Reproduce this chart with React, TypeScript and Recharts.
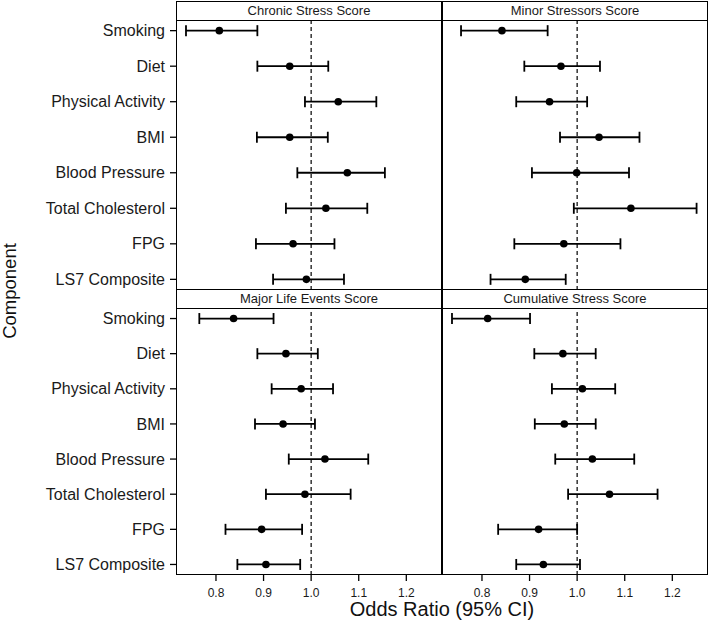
import React from "react";
import {
  ScatterChart,
  Scatter,
  XAxis,
  YAxis,
  ErrorBar,
  ReferenceLine,
} from "recharts";

const COMPONENTS = [
  "Smoking",
  "Diet",
  "Physical Activity",
  "BMI",
  "Blood Pressure",
  "Total Cholesterol",
  "FPG",
  "LS7 Composite",
];
const OR_TICKS = [0.8, 0.9, 1.0, 1.1, 1.2];

// odds ratio, lower and upper 95% CI, in COMPONENTS order
const CHRONIC_OR = [0.807, 0.955, 1.057, 0.955, 1.076, 1.031, 0.962, 0.99];
const CHRONIC_LO = [0.737, 0.887, 0.987, 0.886, 0.971, 0.947, 0.884, 0.92];
const CHRONIC_HI = [0.887, 1.036, 1.137, 1.035, 1.155, 1.118, 1.049, 1.069];

const MINOR_OR = [0.842, 0.966, 0.942, 1.046, 0.999, 1.113, 0.972, 0.891];
const MINOR_LO = [0.756, 0.889, 0.872, 0.964, 0.905, 0.993, 0.868, 0.818];
const MINOR_HI = [0.938, 1.048, 1.021, 1.131, 1.109, 1.251, 1.091, 0.976];

const MAJOR_OR = [0.837, 0.947, 0.979, 0.941, 1.029, 0.987, 0.896, 0.905];
const MAJOR_LO = [0.765, 0.887, 0.917, 0.882, 0.953, 0.905, 0.82, 0.845];
const MAJOR_HI = [0.921, 1.014, 1.046, 1.008, 1.12, 1.083, 0.981, 0.977];

const CUMUL_OR = [0.812, 0.97, 1.011, 0.973, 1.032, 1.068, 0.919, 0.929];
const CUMUL_LO = [0.737, 0.91, 0.947, 0.911, 0.954, 0.981, 0.834, 0.872];
const CUMUL_HI = [0.901, 1.039, 1.08, 1.039, 1.12, 1.169, 1.0, 1.006];

const FONT = '"Liberation Sans", Arial, Helvetica, sans-serif';
const X_DOMAIN = [0.716, 1.275];
const Y_AXIS_W = 176;

function toRows(or: number[], lo: number[], hi: number[]) {
  return or.map((v, i) => ({ or: v, y: i, err: [v - lo[i], hi[i] - v] }));
}

const dot = (p: any) => <circle cx={p.cx} cy={p.cy} r={3.8} fill="#000" />;

interface PanelProps {
  title: string;
  or: number[];
  lo: number[];
  hi: number[];
  left: number;
  top: number;
  plotH: number;
  showY: boolean;
  showX: boolean;
}

function Panel({ title, or, lo, hi, left, top, plotH, showY, showX }: PanelProps) {
  const plotW = 266;
  const xAxisH = showX ? 45 : 0;
  const chartLeft = showY ? left - Y_AXIS_W : left;
  const chartW = plotW + (showY ? Y_AXIS_W : 0);
  return (
    <>
      <div
        style={{
          position: "absolute",
          left,
          top: top - 19,
          width: plotW,
          height: 20,
          boxSizing: "border-box",
          border: "1.6px solid #000",
          background: "#fff",
          fontSize: 13,
          lineHeight: "17px",
          textAlign: "center",
          color: "#1a1a1a",
        }}
      >
        {title}
      </div>
      <div style={{ position: "absolute", left: chartLeft, top }}>
        <ScatterChart
          width={chartW}
          height={plotH + xAxisH}
          margin={{ top: 0, right: 0, bottom: 0, left: 0 }}
        >
          <XAxis
            type="number"
            dataKey="or"
            domain={X_DOMAIN}
            allowDataOverflow
            ticks={OR_TICKS}
            tickFormatter={(v) => v.toFixed(1)}
            hide={!showX}
            height={xAxisH}
            axisLine={false}
            tickLine={{ stroke: "#000", strokeWidth: 1.3 }}
            tickSize={6}
            tickMargin={7}
            tick={{ fontSize: 12, fill: "#1a1a1a" }}
          />
          <YAxis
            type="number"
            dataKey="y"
            domain={[-0.3, 7.3]}
            allowDataOverflow
            reversed
            ticks={COMPONENTS.map((_, i) => i)}
            interval={0}
            tickFormatter={(i) => COMPONENTS[i] ?? ""}
            hide={!showY}
            width={Y_AXIS_W}
            axisLine={false}
            tickLine={{ stroke: "#000", strokeWidth: 1.3 }}
            tickSize={6}
            tickMargin={5}
            tick={{ fontSize: 16, fill: "#1a1a1a" }}
          />
          <ReferenceLine x={1} stroke="#000" strokeWidth={1.2} strokeDasharray="4 3" />
          <Scatter data={toRows(or, lo, hi)} shape={dot} isAnimationActive={false}>
            <ErrorBar
              dataKey="err"
              direction="x"
              width={5.5}
              stroke="#000"
              strokeWidth={1.8}
              isAnimationActive={false}
            />
          </Scatter>
        </ScatterChart>
      </div>
      <div
        style={{
          position: "absolute",
          left,
          top,
          width: plotW,
          height: plotH,
          boxSizing: "border-box",
          border: "1.6px solid #000",
          pointerEvents: "none",
        }}
      />
    </>
  );
}

export default function App() {
  return (
    <div
      style={{
        position: "absolute",
        left: 0,
        top: 0,
        width: 709,
        height: 620,
        background: "#fff",
        fontFamily: FONT,
        overflow: "hidden",
      }}
    >
      <Panel title="Chronic Stress Score" or={CHRONIC_OR} lo={CHRONIC_LO} hi={CHRONIC_HI}
        left={176} top={20} plotH={270} showY showX={false} />
      <Panel title="Minor Stressors Score" or={MINOR_OR} lo={MINOR_LO} hi={MINOR_HI}
        left={442} top={20} plotH={270} showY={false} showX={false} />
      <Panel title="Major Life Events Score" or={MAJOR_OR} lo={MAJOR_LO} hi={MAJOR_HI}
        left={176} top={308} plotH={267} showY showX />
      <Panel title="Cumulative Stress Score" or={CUMUL_OR} lo={CUMUL_LO} hi={CUMUL_HI}
        left={442} top={308} plotH={267} showY={false} showX />
      <div
        style={{
          position: "absolute",
          left: 176,
          width: 532,
          top: 598,
          textAlign: "center",
          fontSize: 20,
          color: "#111",
        }}
      >
        Odds Ratio (95% CI)
      </div>
      <div
        style={{
          position: "absolute",
          left: 10,
          top: 291,
          transform: "translate(-50%, -50%) rotate(-90deg)",
          fontSize: 18.5,
          lineHeight: "18px",
          color: "#111",
          whiteSpace: "nowrap",
        }}
      >
        Component
      </div>
    </div>
  );
}
